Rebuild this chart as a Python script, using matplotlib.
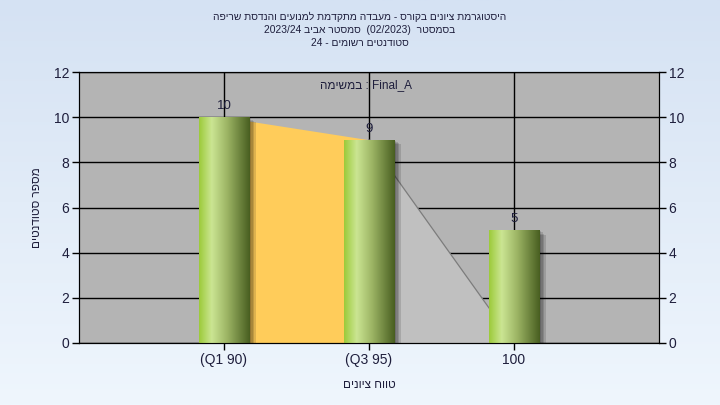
import numpy as np
import matplotlib
matplotlib.use("Agg")
import matplotlib.pyplot as plt
import matplotlib.patheffects as pe
from matplotlib.colors import LinearSegmentedColormap


plt.rcParams["font.family"] = ["Liberation Sans", "DejaVu Sans"]


def heb(text):
    # matplotlib has no bidi support, so put the words in visual order
    out = []
    for word in text.split(" ")[::-1]:
        if any("\u0590" <= c <= "\u05ff" for c in word):
            out.append(word[::-1])
        else:
            out.append(word)
    return " ".join(out)


categories = ["(Q1 90)", "(Q3 95)", "100"]
students = [10, 9, 5]
area_values = [10, 9, 0]
y_ticks = [0, 2, 4, 6, 8, 10, 12]

title_lines = [
    "היסטוגרמת ציונים בקורס - מעבדה מתקדמת למנועים והנדסת שריפה",
    "בסמסטר  (02/2023)  סמסטר אביב 2023/24",
    "סטודנטים רשומים - 24",
]
legend_text = "Final_A : במשימה"
x_label = "טווח ציונים"
y_label = "מספר סטודנטים"

text_color = "#1E1E3C"


fig = plt.figure(figsize=(7.2, 4.05), dpi=100)

# light blue gradient behind everything
bg = fig.add_axes([0, 0, 1, 1], zorder=-1)
bg.imshow(
    np.linspace(0, 1, 256).reshape(-1, 1),
    cmap=LinearSegmentedColormap.from_list("bg", ["#D5E2F3", "#EFF6FD"]),
    aspect="auto",
    extent=[0, 1, 0, 1]
)
bg.axis("off")


ax = fig.add_axes([0.1097, 0.1531, 0.8056, 0.6691])
ax.set_facecolor("#B4B4B4")

x = np.arange(len(categories))

# area series behind the bars
ax.fill_between(x[0:2], area_values[0:2], color="#FFCC5A", zorder=2, lw=0)
ax.fill_between(x[1:3], area_values[1:3], color="#C0C0C0", zorder=2, lw=0)
ax.plot(x[1:3], area_values[1:3], color="#7C7C7C", lw=0.9, zorder=2)


# soft shadow: a few faint offset copies
shadow = [
    pe.SimplePatchShadow(offset=(d, -0.7 * d), shadow_rgbFace="black", alpha=0.13)
    for d in (1.2, 2.4, 3.6, 4.8)
]

bars = ax.bar(
    x,
    students,
    width=0.35,
    color="#8FAF50",
    zorder=3,
    path_effects=shadow + [pe.Normal()]
)

bar_cmap = LinearSegmentedColormap.from_list(
    "bar",
    [(0, "#9CCB3A"), (0.25, "#CBE593"), (0.55, "#9DB565"), (1, "#485E20")]
)
gradient = np.linspace(0, 1, 256).reshape(1, -1)

for rect, value in zip(bars, students):
    x0, y0 = rect.get_x(), rect.get_y()
    w, h = rect.get_width(), rect.get_height()
    im = ax.imshow(
        gradient,
        cmap=bar_cmap,
        aspect="auto",
        extent=[x0, x0 + w, y0, y0 + h],
        zorder=4
    )
    im.set_clip_path(rect)

    ax.text(
        x0 + w / 2,
        y0 + h + 0.22,
        str(value),
        ha="center",
        va="bottom",
        fontsize=9.5,
        color=text_color,
        zorder=5
    )


ax.set_xlim(-1, 3)
ax.set_ylim(0, 12)
ax.set_xticks(x)
ax.set_xticklabels(categories)
ax.set_yticks(y_ticks)

ax.set_axisbelow(True)
ax.grid(True, color="black", lw=1)

for s in ax.spines.values():
    s.set_color("black")

ax.tick_params(
    direction="out",
    length=5,
    width=1,
    color="black",
    labelcolor=text_color,
    labelsize=10,
    pad=2
)

ax2 = ax.twinx()
ax2.set_ylim(0, 12)
ax2.set_yticks(y_ticks)
ax2.tick_params(
    direction="out",
    length=5,
    width=1,
    color="black",
    labelcolor=text_color,
    labelsize=10,
    pad=2
)


ax.text(
    0.495,
    0.952,
    heb(legend_text),
    transform=ax.transAxes,
    ha="center",
    va="center",
    fontsize=8.5,
    color=text_color,
    zorder=6
)

ax.set_xlabel(heb(x_label), fontsize=8.5, color=text_color, labelpad=9)
ax.set_ylabel(heb(y_label), fontsize=8.5, color=text_color, labelpad=8)


for i, line in enumerate(title_lines):
    fig.text(
        0.5,
        0.958 - i * 0.032,
        heb(line),
        ha="center",
        va="center",
        fontsize=7.4,
        color=text_color
    )


plt.savefig("out.png", dpi=100)
plt.close()
